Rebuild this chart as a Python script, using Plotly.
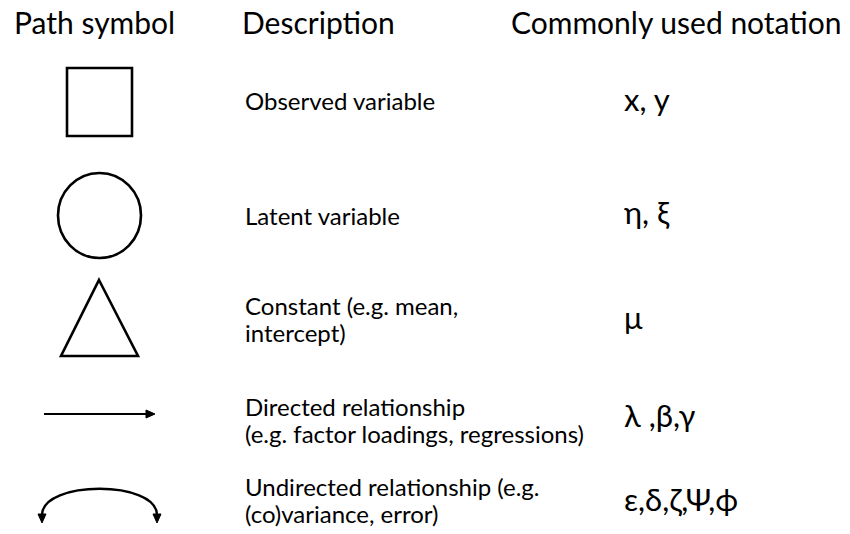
import plotly.graph_objects as go

W, H = 850, 534
FONT = "Lato"

headers = ["Path symbol", "Description", "Commonly used notation"]
descriptions = [
    "Observed variable",
    "Latent variable",
    "Constant (e.g. mean,<br>intercept)",
    "Directed relationship<br>(e.g. factor loadings, regressions)",
    "Undirected relationship (e.g.<br>(co)variance, error)",
]
notations = ["x, y", "η, ξ", "μ", "λ ,β,γ", "ε,δ,ζ,Ψ,ϕ"]

header_x = [12, 240, 509]
header_y = 22
desc_y = [100, 215, 319, 420, 500]
note_y = [99, 212, 317, 415, 499]
LINE_GAP = 27

fig = go.Figure()
fig.add_trace(go.Scatter(x=[0, W], y=[0, H], mode="markers",
                         marker=dict(opacity=0), hoverinfo="skip", showlegend=False))

shapes = []
LW = 2.6
shapes.append(dict(type="rect", x0=67, x1=132, y0=68, y1=136,
                   line=dict(color="black", width=LW)))
shapes.append(dict(type="circle", x0=58, x1=141, y0=173, y1=258,
                   line=dict(color="black", width=LW)))
shapes.append(dict(type="path", path="M 99,280 L 138,356 L 61,356 Z",
                   line=dict(color="black", width=LW)))
shapes.append(dict(type="line", x0=44, x1=148, y0=414, y1=414,
                   line=dict(color="black", width=2.2)))
shapes.append(dict(type="path", path="M 155,414 L 146,410 L 146,418 Z",
                   fillcolor="black", line=dict(color="black", width=1)))
shapes.append(dict(type="path", path="M 42,515 C 42,480 157,480 157,515",
                   line=dict(color="black", width=2.4)))
shapes.append(dict(type="path", path="M 42,523 L 38,514 L 46,514 Z",
                   fillcolor="black", line=dict(color="black", width=1)))
shapes.append(dict(type="path", path="M 157,523 L 153,514 L 161,514 Z",
                   fillcolor="black", line=dict(color="black", width=1)))

annotations = []
for t, x in zip(headers, header_x):
    annotations.append(dict(x=x, y=header_y, text=t, showarrow=False,
                            xanchor="left", yanchor="middle",
                            font=dict(family=FONT, size=30, color="black")))
for t, y in zip(descriptions, desc_y):
    lines = t.split("<br>")
    n = len(lines)
    for i, ln in enumerate(lines):
        yy = y + (i - (n - 1) / 2) * LINE_GAP
        annotations.append(dict(x=243, y=yy, text=ln, showarrow=False,
                                xanchor="left", yanchor="middle", align="left",
                                font=dict(family=FONT, size=24, color="black")))
for t, y in zip(notations, note_y):
    annotations.append(dict(x=622, y=y, text=t, showarrow=False,
                            xanchor="left", yanchor="middle",
                            font=dict(family=FONT, size=31, color="black")))

fig.update_layout(
    width=W, height=H,
    margin=dict(l=0, r=0, t=0, b=0),
    paper_bgcolor="white", plot_bgcolor="white",
    xaxis=dict(range=[0, W], visible=False, fixedrange=True),
    yaxis=dict(range=[H, 0], visible=False, fixedrange=True),
    shapes=shapes, annotations=annotations,
    showlegend=False,
)
fig.write_html("out.html", config={"displayModeBar": False},
               post_script="document.body.style.margin='0';document.body.style.overflow='hidden';")
